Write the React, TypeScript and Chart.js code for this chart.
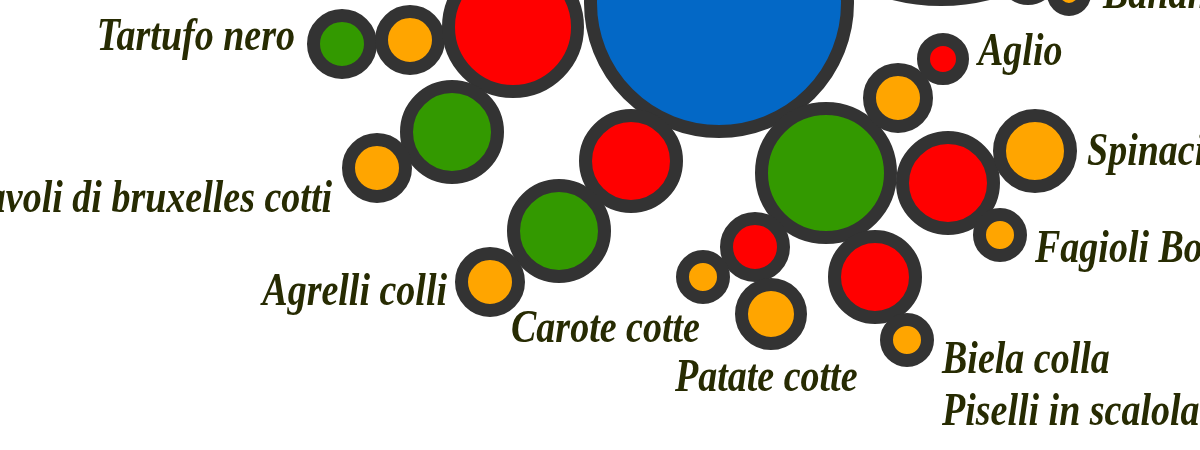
import { useEffect, useRef } from "react"
import { Chart, registerables } from "chart.js"

Chart.register(...registerables)

// Network nodes (x / y in canvas units, y grows downward)
const nodeX = [342, 410, 513, 719, 452, 377, 631, 559, 490, 826, 898, 943, 948, 1035, 1000, 755, 703, 771, 875, 907, 941, 1028, 1069]
const nodeY = [44, 40, 27, 3, 132, 168, 161, 231, 282, 173, 98, 59, 183, 151, 235, 247, 277, 314, 277, 340, -194, -25, -6]
const nodeSize = [35, 35, 71, 135, 52, 35, 52, 52, 35, 71, 35, 26, 52, 42, 27, 35, 27, 36, 47, 27, 200, 30, 22]
const nodeGroup = [
  "verde", "arancio", "rosso", "centro", "verde", "arancio", "rosso", "verde", "arancio", "verde",
  "arancio", "rosso", "rosso", "arancio", "arancio", "rosso", "arancio", "arancio", "rosso", "arancio",
  "verde", "rosso", "arancio",
]

// Food labels
const labelText = [
  "Tartufo nero", "Cavoli di bruxelles cotti", "Agrelli colli", "Carote cotte", "Patate cotte",
  "Biela colla", "Piselli in scalola", "Fagioli Borlotti", "Spinaci", "Aglio", "Banane",
]
const labelX = [295, 332, 447, 511, 675, 942, 942, 1035, 1087, 978, 1103]
const labelY = [50, 212, 305, 342, 391, 373, 425, 262, 165, 65, 8]
const labelAlign = ["right", "right", "right", "left", "left", "left", "left", "left", "left", "left", "left"]

const groupColor: Record<string, string> = {
  centro: "#0368c6",
  verde: "#339900",
  rosso: "#ff0000",
  arancio: "#ffa500",
}

const BORDER = 13

const labelPlugin = {
  id: "foodLabels",
  afterDatasetsDraw(chart: any) {
    const { ctx, scales } = chart
    ctx.fillStyle = "#272b02"
    labelText.forEach((t, i) => {
      ctx.save()
      ctx.translate(scales.x.getPixelForValue(labelX[i]), scales.y.getPixelForValue(labelY[i]))
      // the original script face is taller than the fallback, stretch a bit
      ctx.scale(1, 1.2)
      ctx.font = "italic bold 38px 'Liberation Serif'"
      ctx.textBaseline = "alphabetic"
      ctx.textAlign = labelAlign[i] as CanvasTextAlign
      ctx.fillText(t, 0, 0)
      ctx.restore()
    })
  },
}

export default function App() {
  const chartRef = useRef<HTMLCanvasElement>(null)
  const chartInstance = useRef<Chart | null>(null)

  useEffect(() => {
    document.body.style.margin = "0"
    if (!chartRef.current) return
    const ctx = chartRef.current.getContext("2d")
    if (!ctx) return

    chartInstance.current = new Chart(ctx, {
      type: "bubble",
      data: {
        datasets: [
          {
            data: nodeX.map((x, i) => ({ x, y: nodeY[i], r: nodeSize[i] - BORDER / 2 })),
            backgroundColor: nodeGroup.map((g) => groupColor[g]),
            borderColor: "#333333",
            borderWidth: BORDER,
            hoverBorderWidth: BORDER,
            clip: false,
          },
        ],
      },
      options: {
        responsive: false,
        animation: false,
        layout: { padding: 0, autoPadding: false },
        plugins: {
          legend: { display: false },
          tooltip: { enabled: false },
        },
        scales: {
          x: { type: "linear", min: 0, max: 1200, display: false },
          y: { type: "linear", min: 0, max: 450, reverse: true, display: false },
        },
      },
      plugins: [labelPlugin],
    })

    return () => {
      chartInstance.current?.destroy()
    }
  }, [])

  return (
    <div style={{ width: 1200, height: 450 }}>
      <canvas ref={chartRef} width={1200} height={450} style={{ display: "block" }} />
    </div>
  )
}
